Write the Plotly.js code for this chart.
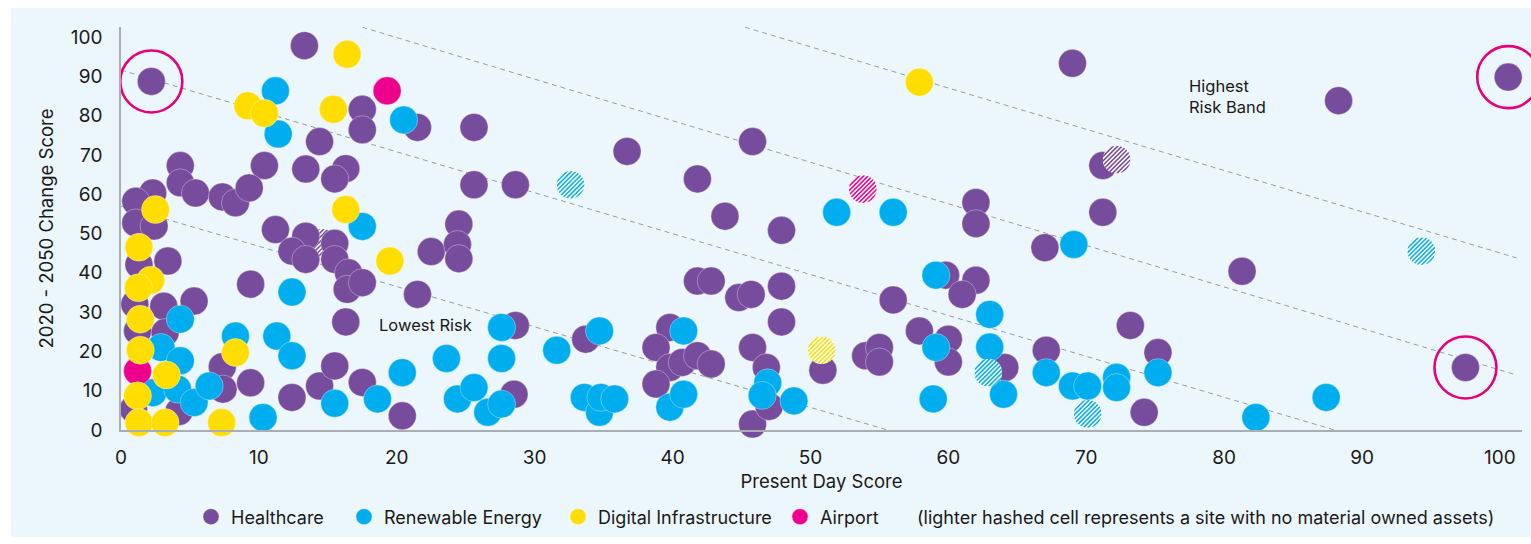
<!DOCTYPE html>
<html>
<head>
<meta charset="utf-8">
<script src="https://cdn.plot.ly/plotly-3.0.1.min.js"></script>
<style>
  html, body { margin: 0; padding: 0; background: #ffffff; }
  #bg { position: absolute; left: 11px; top: 8px; width: 1520px; height: 529px; background: #ECF7FD; }
  #chart { position: absolute; left: 0; top: 0; width: 1531px; height: 544px; }
</style>
</head>
<body>
<div id="bg"></div>
<div id="chart"></div>
<script>
// ---------------- DATA ----------------
const healthcareX = [13.3, 2.2, 17.5, 17.5, 14.4, 4.3, 10.4, 13.4, 16.3, 15.5, 4.3, 5.4, 7.35, 8.3, 9.3, 2.3, 1.07, 1.07, 2.4, 11.2,
  13.4, 15.5, 12.4, 13.4, 15.5, 16.5, 16.4, 17.5, 1.3, 3.4, 1.0, 3.1, 5.3, 1.2, 3.2, 0.9, 4.2, 7.35, 7.4, 9.4,
  9.4, 12.4, 14.4, 15.5, 16.3, 17.5, 20.4, 21.5, 25.6, 36.7, 45.8, 25.6, 28.6, 41.8, 43.8, 47.9, 24.5, 22.5, 24.4, 24.5,
  21.5, 28.6, 28.5, 33.7, 41.8, 42.8, 44.8, 45.7, 47.9, 47.9, 39.8, 38.8, 45.8, 39.8, 40.7, 41.8, 42.8, 38.8, 46.8, 45.8,
  47.0, 69.0, 71.2, 62.0, 62.0, 71.2, 67.0, 56.0, 59.8, 62.0, 61.0, 57.9, 60.0, 60.0, 64.1, 50.9, 54.0, 55.0, 55.0, 67.1,
  73.2, 75.2, 74.2, 88.3, 100.6, 81.3, 97.5];
const healthcareY = [97.8, 88.7, 81.6, 76.4, 73.4, 67.3, 67.3, 66.4, 66.5, 63.9, 62.9, 60.3, 59.3, 57.8, 61.6, 60.3, 58.2, 52.7, 51.9, 51.0,
  49.3, 47.5, 45.5, 43.4, 43.4, 40.0, 35.8, 37.5, 42.1, 43.0, 32.0, 31.5, 32.8, 25.2, 24.8, 5.3, 4.7, 16.1, 10.4, 12.0,
  37.1, 8.3, 11.2, 16.3, 27.5, 12.1, 3.6, 77.0, 77.0, 70.9, 73.4, 62.4, 62.4, 63.9, 54.4, 50.8, 52.4, 45.4, 47.2, 43.6,
  34.5, 26.6, 9.1, 23.1, 37.9, 37.9, 33.7, 34.5, 36.6, 27.5, 26.1, 21.0, 21.0, 15.9, 17.2, 18.9, 16.8, 11.7, 15.9, 1.5,
  6.0, 93.3, 67.3, 57.9, 52.5, 55.4, 46.4, 33.1, 39.4, 38.1, 34.5, 25.2, 23.1, 17.3, 15.9, 15.2, 18.9, 21.0, 17.3, 20.3,
  26.6, 19.7, 4.5, 83.8, 89.8, 40.4, 15.9];

const renewableX = [11.2, 20.5, 11.4, 17.5, 12.4, 4.3, 2.9, 4.3, 2.3, 4.1, 5.3, 6.4, 8.3, 10.3, 11.3, 12.4, 15.5, 18.6, 20.4, 27.6,
  27.6, 23.6, 24.4, 25.6, 26.6, 27.6, 31.6, 34.7, 33.6, 34.7, 34.8, 35.8, 40.8, 39.8, 40.8, 46.9, 46.5, 48.8, 51.9, 56.0,
  69.1, 59.1, 63.0, 59.1, 63.0, 64.0, 58.9, 67.1, 69.0, 70.1, 72.2, 72.2, 75.2, 87.4, 82.3];
const renewableY = [86.3, 78.9, 75.3, 51.8, 35.1, 28.2, 21.0, 17.6, 9.5, 10.4, 7.0, 11.2, 23.9, 3.2, 23.9, 18.9, 6.8, 7.9, 14.6, 26.1,
  18.2, 18.2, 7.9, 10.8, 4.5, 6.6, 20.3, 25.2, 8.3, 4.5, 8.3, 7.9, 25.2, 5.8, 9.1, 12.0, 8.8, 7.4, 55.4, 55.4,
  47.2, 39.4, 29.4, 21.0, 21.1, 9.1, 7.9, 14.6, 11.2, 11.2, 13.4, 10.8, 14.6, 8.3, 3.2];

const digitalX = [16.4, 9.2, 10.4, 15.4, 2.5, 16.3, 1.3, 2.15, 1.26, 1.4, 1.4, 3.3, 1.2, 1.3, 3.2, 8.3, 7.3, 19.5, 57.9];
const digitalY = [95.6, 82.5, 80.6, 81.6, 56.1, 56.1, 46.5, 38.1, 36.2, 28.2, 20.3, 14.0, 8.7, 1.9, 1.9, 19.7, 1.9, 43.0, 88.5];

const airportX = [19.3, 1.2];
const airportY = [86.3, 15.0];

// sites with no material owned assets (hashed cells)
const hashedSector = ["Renewable Energy", "Renewable Energy", "Renewable Energy", "Renewable Energy", "Healthcare", "Healthcare", "Airport", "Digital Infrastructure"];
const hashedX = [32.6, 94.3, 62.9, 70.1, 72.2, 14.6, 53.8, 50.8];
const hashedY = [62.4, 45.5, 14.6, 4.1, 68.8, 47.6, 61.3, 20.3];

// highlighted (circled) sites
const highlightX = [2.2, 100.6, 97.5];
const highlightY = [88.7, 89.8, 15.9];

// risk band boundaries (dashed lines): [x0, y0, x1, y1]
const bandLines = [
  [0, 57.0, 55.6, 0],
  [0, 91.6, 88.0, 0],
  [17.5, 102.5, 101.2, 14.0],
  [45.25, 102.5, 101.2, 43.8]
];

const xTicks = [0, 10, 20, 30, 40, 50, 60, 70, 80, 90, 100];
const yTicks = [0, 10, 20, 30, 40, 50, 60, 70, 80, 90, 100];

// ---------------- STYLE ----------------
const colors = {
  "Healthcare": "#774C9D",
  "Renewable Energy": "#00AEEF",
  "Digital Infrastructure": "#FFDD00",
  "Airport": "#EC008C"
};
const FONT = "Inter, 'Open Sans', sans-serif";
const TXT = "#1a1a1a";
const MS = 28;  // marker diameter px
const hashedOnTop = [true, true, true, true, true, false, true, true];
const legendLeftPx = { "Healthcare": 191, "Renewable Energy": 344, "Digital Infrastructure": 558, "Airport": 780 };
const legendIds = { "Healthcare": "legend", "Renewable Energy": "legend2", "Digital Infrastructure": "legend3", "Airport": "legend4" };

const margin = { l: 121, r: 9, t: 27, b: 114 };
const xRange = [0, 101.6];
const yRange = [0, 102.55];
const plotW = 1531 - margin.l - margin.r;
const plotH = 544 - margin.t - margin.b;

function mk(name, xs, ys) {
  return {
    type: "scatter", mode: "markers", name: name, x: xs, y: ys,
    legend: legendIds[name],
    cliponaxis: false, hoverinfo: "x+y+name",
    marker: { size: MS, color: colors[name], line: { width: 0.6, color: "rgba(255,255,255,0.55)" } }
  };
}

const traces = [
  mk("Healthcare", healthcareX, healthcareY),
  mk("Renewable Energy", renewableX, renewableY),
  mk("Airport", airportX, airportY),
  mk("Digital Infrastructure", digitalX, digitalY),
  {
    type: "scatter", mode: "markers", x: highlightX, y: highlightY, showlegend: false,
    cliponaxis: false, hoverinfo: "skip",
    marker: { size: 62, color: "rgba(0,0,0,0)", line: { width: 2.6, color: "#E6007E" } }
  }
];

function hashSvg(color) {
  let lines = "";
  for (let k = -30; k <= 60; k += 4.4) {
    lines += `<line x1='${k.toFixed(2)}' y1='28' x2='${(k + 28).toFixed(2)}' y2='0' stroke='${color}' stroke-width='1.5'/>`;
  }
  const svg = `<svg xmlns='http://www.w3.org/2000/svg' width='56' height='56' viewBox='0 0 28 28'><defs><clipPath id='c'><circle cx='14' cy='14' r='13.9'/></clipPath></defs><g clip-path='url(#c)'><rect width='28' height='28' fill='#ffffff'/>${lines}</g></svg>`;
  return "data:image/svg+xml;charset=utf-8," + encodeURIComponent(svg);
}

const images = hashedX.map((x, i) => ({
  source: hashSvg(colors[hashedSector[i]]),
  xref: "x", yref: "y", x: x, y: hashedY[i],
  sizex: MS * (xRange[1] - xRange[0]) / plotW,
  sizey: MS * (yRange[1] - yRange[0]) / plotH,
  xanchor: "center", yanchor: "middle", sizing: "stretch",
  layer: hashedOnTop[i] ? "above" : "below"
}));

const shapes = bandLines.map(l => ({
  type: "line", xref: "x", yref: "y", x0: l[0], y0: l[1], x1: l[2], y1: l[3],
  line: { color: "#9b9b9b", width: 1, dash: "5px,4px" }, layer: "below"
}));

function legendAt(px) {
  return {
    orientation: "h", xref: "container", yref: "container",
    x: px / 1531, xanchor: "left", y: 27 / 544, yanchor: "middle",
    font: { family: FONT, size: 18, color: TXT }, bgcolor: "rgba(0,0,0,0)",
    itemclick: false, itemdoubleclick: false
  };
}

const layout = {
  width: 1531, height: 544,
  margin: margin,
  paper_bgcolor: "rgba(0,0,0,0)",
  plot_bgcolor: "rgba(0,0,0,0)",
  font: { family: FONT, color: TXT, size: 16 },
  showlegend: true,
  xaxis: {
    range: xRange, tickvals: xTicks, ticktext: xTicks.map(String),
    showgrid: false, zeroline: false, showline: true, linecolor: "#a9aeb3", linewidth: 1.5,
    ticks: "outside", ticklen: 9, tickcolor: "rgba(0,0,0,0)",
    tickfont: { family: FONT, size: 19, color: TXT },
    title: { text: "Present Day Score", font: { family: FONT, size: 18.5, color: TXT }, standoff: 8 }
  },
  yaxis: {
    range: yRange, tickvals: yTicks, ticktext: yTicks.map(String),
    showgrid: false, zeroline: false, showline: true, linecolor: "#a9aeb3", linewidth: 1.5,
    ticks: "outside", ticklen: 13, tickcolor: "rgba(0,0,0,0)",
    tickfont: { family: FONT, size: 19, color: TXT },
    title: { text: "2020 - 2050 Change Score", font: { family: FONT, size: 18.5, color: TXT }, standoff: 12 }
  },
  legend: legendAt(legendLeftPx["Healthcare"]),
  legend2: legendAt(legendLeftPx["Renewable Energy"]),
  legend3: legendAt(legendLeftPx["Digital Infrastructure"]),
  legend4: legendAt(legendLeftPx["Airport"]),
  shapes: shapes,
  images: images,
  annotations: [
    { text: "Lowest Risk", xref: "x", yref: "y", x: 18.6, y: 26.6, xanchor: "left", yanchor: "middle",
      showarrow: false, font: { family: FONT, size: 16.5, color: TXT } },
    { text: "Highest<br>Risk Band", xref: "x", yref: "y", x: 77.3, y: 84.8, xanchor: "left", yanchor: "middle",
      align: "left", showarrow: false, font: { family: FONT, size: 16.5, color: TXT } },
    { text: "(lighter hashed cell represents a site with no material owned assets)", xref: "paper", yref: "paper",
      x: (915 - margin.l) / plotW, y: -(517 - 430) / plotH, xanchor: "left", yanchor: "middle",
      showarrow: false, font: { family: FONT, size: 18, color: TXT } }
  ]
};

Plotly.newPlot("chart", traces, layout, { displayModeBar: false });
</script>
</body>
</html>
